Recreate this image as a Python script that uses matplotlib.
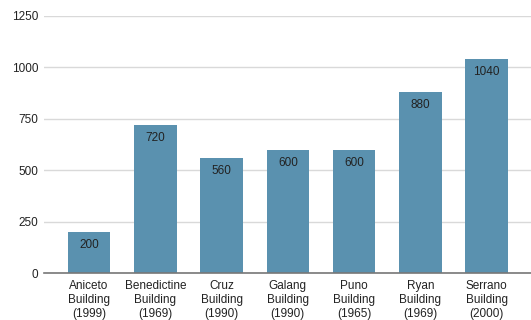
import matplotlib.pyplot as plt

plt.rcParams['font.family'] = ['Liberation Sans', 'DejaVu Sans']

# buildings with the year each was built
buildings = ["Aniceto\nBuilding\n(1999)", "Benedictine\nBuilding\n(1969)",
             "Cruz\nBuilding\n(1990)", "Galang\nBuilding\n(1990)",
             "Puno\nBuilding\n(1965)", "Ryan\nBuilding\n(1969)",
             "Serrano\nBuilding\n(2000)"]
counts = [200, 720, 560, 600, 600, 880, 1040]
yticks = [0, 250, 500, 750, 1000, 1250]

fig = plt.figure(figsize=(5.31, 3.2), dpi=100)
ax = fig.add_axes([44 / 531, 1 - 273 / 320, 1 - 44 / 531, (273 - 16) / 320])

x = range(len(buildings))
bars = ax.bar(x, counts, width=0.64, color="#5a91af", zorder=3)

for b, v in zip(bars, counts):
    ax.annotate(str(v), (b.get_x() + b.get_width() / 2, v),
                xytext=(0, -5), textcoords="offset points",
                ha="center", va="top", fontsize=8.5, color="#222222", zorder=4)

ax.set_xlim(-0.68, 6.67)
ax.set_ylim(0, 1250)
ax.set_yticks(yticks)
ax.set_yticklabels([str(t) for t in yticks], fontsize=8.5, color="#222222")
ax.set_xticks(list(x))
ax.set_xticklabels(buildings, fontsize=8.5, color="#222222", linespacing=1.2)

ax.grid(axis="y", color="#d9d9d9", linewidth=1, zorder=0)
ax.tick_params(axis="both", length=0)
ax.tick_params(axis="y", pad=4)
ax.tick_params(axis="x", pad=5)
for s in ["top", "right", "left"]:
    ax.spines[s].set_visible(False)
ax.spines["bottom"].set_color("#777777")
ax.spines["bottom"].set_linewidth(1.2)
ax.spines["bottom"].set_zorder(5)

fig.savefig("out.png", dpi=100)
